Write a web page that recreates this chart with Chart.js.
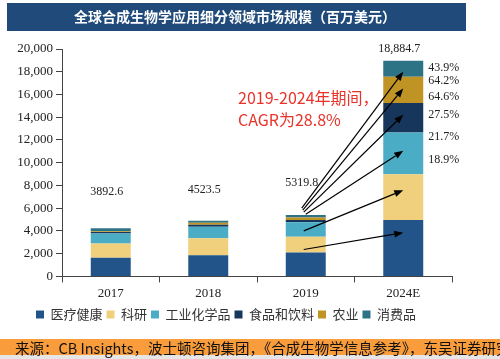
<!DOCTYPE html>
<html>
<head>
<meta charset="utf-8">
<script src="https://cdn.jsdelivr.net/npm/chart.js@4"></script>
<style>
 html, body { margin: 0; padding: 0; background: #fff; }
 #wrap { width: 500px; height: 359px; position: relative; }
</style>
</head>
<body>
<div id="wrap"><canvas id="mktChart" width="500" height="359"></canvas></div>
<script>
// data (millions USD)
const years = ['2017', '2018', '2019', '2024E'];
const healthcare = [1630, 1870, 2100, 4950];
const research = [1270, 1480, 1390, 4030];
const industrial = [880, 1010, 1270, 3670];
const foodBev = [130, 180, 210, 2600];
const agriculture = [60, 180, 210, 2310];
const consumer = [270, 180, 210, 1400];
const totalLabels = ['3892.6', '4523.5', '5319.8', '18,884.7'];
const cagrLabels = ['43.9%', '64.2%', '64.6%', '27.5%', '21.7%', '18.9%'];
const yTicks = [0, 2000, 4000, 6000, 8000, 10000, 12000, 14000, 16000, 18000, 20000];

const titleText = '全球合成生物学应用细分领域市场规模（百万美元）';
const sourceText = '来源：CB Insights，波士顿咨询集团，《合成生物学信息参考》，东吴证券研究所';
const noteLines = ['2019-2024年期间，', 'CAGR为28.8%'];

// annotation placement (value units on the y scale)
const cagrLabelY = [18364, 17209, 15787, 14222, 12231, 10222];
const noteY = [15716, 13760];
const totalLift = [36, 31, 32, 12];
const arrows = [
 { from: 2364, to: 3849, dx: -2 },
 { from: 4000, to: 7582, dx: -2 },
 { from: 5476, to: 11049, dx: 0 },
 { from: 5653, to: 14222, dx: -2 },
 { from: 5831, to: 16533, dx: -3 },
 { from: 6009, to: 18009, dx: -4 }
];

const serif = '"Liberation Serif", "Times New Roman", serif';
const cjk = '"Noto Sans CJK SC", "Noto Sans", sans-serif';

function drawArrow(ctx, x1, y1, x2, y2) {
 const ang = Math.atan2(y2 - y1, x2 - x1);
 const hl = 9, hw = 3.5;
 const bx = x2 - hl * Math.cos(ang), by = y2 - hl * Math.sin(ang);
 ctx.beginPath();
 ctx.moveTo(x1, y1);
 ctx.lineTo(bx, by);
 ctx.stroke();
 ctx.beginPath();
 ctx.moveTo(x2, y2);
 ctx.lineTo(bx + hw * Math.sin(ang), by - hw * Math.cos(ang));
 ctx.lineTo(bx - hw * Math.sin(ang), by + hw * Math.cos(ang));
 ctx.closePath();
 ctx.fill();
}

const decorPlugin = {
 id: 'decor',
 beforeDraw(chart) {
  const ctx = chart.ctx;
  ctx.save();
  ctx.fillStyle = '#1f4a7a';
  ctx.fillRect(7, 3, 459, 28);
  ctx.fillStyle = '#fff';
  ctx.font = 'bold 14px ' + cjk;
  ctx.textAlign = 'center';
  ctx.textBaseline = 'middle';
  ctx.fillText(titleText, 235, 17);

  ctx.fillStyle = '#f89c3c';
  ctx.fillRect(0, 339, 500, 16);
  ctx.fillStyle = '#e6e6e6';
  ctx.fillRect(0, 355, 500, 4);
  ctx.fillStyle = '#111';
  ctx.font = '14.5px ' + cjk;
  ctx.textAlign = 'left';
  ctx.fillText(sourceText, 15, 348);
  ctx.restore();
 },
 afterDatasetsDraw(chart) {
  const ctx = chart.ctx;
  const xs = chart.scales.x, ys = chart.scales.y;
  const last = years.length - 1;
  ctx.save();

  // totals
  ctx.font = '12px ' + serif;
  ctx.fillStyle = '#222';
  ctx.textAlign = 'center';
  ctx.textBaseline = 'middle';
  const topMeta = chart.getDatasetMeta(chart.data.datasets.length - 1);
  totalLabels.forEach((t, i) => {
   const bar = topMeta.data[i];
   ctx.fillText(t, bar.x - 4, bar.y - totalLift[i]);
  });

  // arrows from 2019 to 2024E
  ctx.strokeStyle = '#000';
  ctx.fillStyle = '#000';
  ctx.lineWidth = 1.2;
  const x1 = xs.getPixelForValue(last - 1);
  const x2 = xs.getPixelForValue(last);
  arrows.forEach(a => {
   drawArrow(ctx, x1 + a.dx, ys.getPixelForValue(a.from), x2, ys.getPixelForValue(a.to));
  });

  // CAGR per segment
  const barMeta = chart.getDatasetMeta(0).data[last];
  const lx = barMeta.x + barMeta.width / 2 + 5;
  ctx.font = '12px ' + serif;
  ctx.fillStyle = '#222';
  ctx.textAlign = 'left';
  cagrLabels.forEach((t, i) => {
   ctx.fillText(t, lx, ys.getPixelForValue(cagrLabelY[i]));
  });

  // red note
  ctx.font = '16px ' + cjk;
  ctx.fillStyle = '#e8332a';
  noteLines.forEach((t, i) => {
   ctx.fillText(t, 238, ys.getPixelForValue(noteY[i]));
  });
  ctx.restore();
 }
};

const seriesNames = ['医疗健康', '科研', '工业化学品', '食品和饮料', '农业', '消费品'];
const seriesData = [healthcare, research, industrial, foodBev, agriculture, consumer];
const seriesColors = ['#22548a', '#f0d07c', '#4bacc6', '#16365c', '#bf9424', '#2d7386'];

new Chart(document.getElementById('mktChart'), {
 type: 'bar',
 data: {
  labels: years,
  datasets: seriesNames.map((name, i) => ({
   label: name,
   data: seriesData[i],
   backgroundColor: seriesColors[i],
   borderWidth: 0,
   categoryPercentage: 1,
   barPercentage: 0.41
  }))
 },
 options: {
  responsive: false,
  animation: false,
  devicePixelRatio: 1,
  layout: { padding: { top: 49, right: 48, bottom: 28, left: 0 } },
  plugins: {
   legend: {
    position: 'bottom',
    labels: {
     boxWidth: 8,
     boxHeight: 8,
     padding: 4,
     color: '#333',
     font: { family: cjk, size: 13 }
    }
   },
   tooltip: { enabled: false }
  },
  scales: {
   x: {
    stacked: true,
    grid: { display: true, drawOnChartArea: false, tickLength: 6, color: '#444' },
    border: { color: '#444' },
    ticks: { color: '#222', padding: 3, font: { family: serif, size: 13 } }
   },
   y: {
    stacked: true,
    min: 0,
    max: 20000,
    afterFit(axis) { axis.width = 62; },
    afterBuildTicks(axis) { axis.ticks = yTicks.map(v => ({ value: v })); },
    grid: { display: true, drawOnChartArea: false, tickLength: 6, color: '#444' },
    border: { color: '#444' },
    ticks: {
     color: '#222',
     padding: 3,
     font: { family: serif, size: 13 },
     callback: v => v.toLocaleString('en-US')
    }
   }
  }
 },
 plugins: [decorPlugin]
});
</script>
</body>
</html>
